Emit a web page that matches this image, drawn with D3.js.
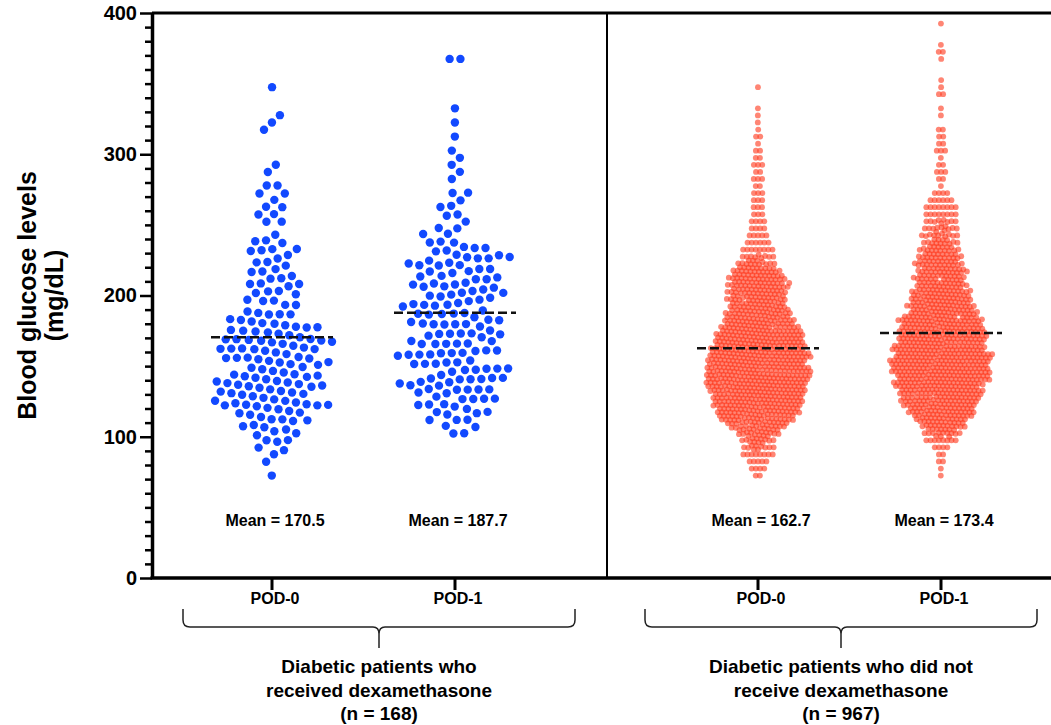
<!DOCTYPE html>
<html>
<head>
<meta charset="utf-8">
<script src="https://cdn.jsdelivr.net/npm/d3@7"></script>
<style>
body { margin: 0; background: #fff; }
text { font-family: "Liberation Sans", Arial, sans-serif; font-weight: bold; fill: #000; }
</style>
</head>
<body>
<svg id="chart" width="1051" height="725"></svg>
<script>
const BIN_START = 70;
const BIN_W = 5;
const groups = ["dex", "nodex"];
const pods = ["POD-0", "POD-1"];
const groupLabels = [
    ["Diabetic patients who", "received dexamethasone", "(n = 168)"],
    ["Diabetic patients who did not", "receive dexamethasone", "(n = 967)"]
];
const dexPod0 = [1,0,1,1,2,3,3,4,4,4, 7,9,10,7,7,7,5,6,8,10, 6,6,4,4,2,3,4,4,3,3,
                 3,2,4,3,1,0,2,2,2,1, 2,2,0,1,1,0,0,0,0,1, 1,1,0,0,0,1];
const dexPod1 = [0,0,0,0,0,0,2,2,3,4, 5,5,6,7,6,6,6,6,6,6, 6,5,6,6,5,6,6,6,5,5,
                 6,6,5,3,2,2,1,2,2,1, 2,0,1,1,1,1,1,0,1,0, 1,0,1,0,0,0,0,0,0,2];
const nodexPod0 = [2,4,5,8,10,12,15,21,30,35, 40,43,47,49,50,50,50,46,45,41,
                   37,34,31,28,25,25,26,28,26,21, 13,9,8,6,5,4,4,3,3,3,
                   3,2,3,2,3,2,2,1,2,1, 1,1,1,0,0,1];
const nodexPod1 = [1,1,2,2,4,8,12,18,23,29, 33,36,38,42,45,47,48,47,44,42,
                   40,38,36,30,28,27,25,23,22,22, 21,19,16,13,11,10,9,8,8,6,
                   4,1,2,3,2,1,3,2,2,2, 0,1,1,0,2,1,1,0,0,1, 2,1,0,0,1];
const means = [170.5, 187.7, 162.7, 173.4];
const yTicks = [0, 100, 200, 300, 400];

/* ---------------------------------- */
const M = {left: 152, top: 13, bottom: 578, right: 1051};
const COLORS = {dex: "#1249ff", nodex: "#ff3418"};

const svg = d3.select("#chart");

var y = d3.scaleLinear().domain([0, 400]).range([M.bottom, M.top]);
var keys = [];
groups.forEach((g) => pods.forEach((p) => keys.push(g + "|" + p)));
var x = d3.scaleOrdinal().domain(keys).range([272, 455, 758, 941]);
var groupMid = d3.scaleOrdinal().domain(groups).range([379, 841]);

var series = [
    {key: "dex|POD-0", group: "dex", counts: dexPod0, mean: means[0]},
    {key: "dex|POD-1", group: "dex", counts: dexPod1, mean: means[1]},
    {key: "nodex|POD-0", group: "nodex", counts: nodexPod0, mean: means[2]},
    {key: "nodex|POD-1", group: "nodex", counts: nodexPod1, mean: means[3]}
];

var expand = function(counts){
    return counts.flatMap((c, i) => d3.range(c).map(() => BIN_START + i*BIN_W + BIN_W/2));
};

// beeswarm: pull each dot to its value, collide sideways
var swarm = function(values, cx, rc){
    var nodes = values.map((v, i) => ({v: v, x: cx + ((i % 9) - 4)*0.4, y: y(v)}));
    var sim = d3.forceSimulation(nodes)
                .force("x", d3.forceX(cx).strength(0.03))
                .force("y", d3.forceY((d) => y(d.v)).strength(0.9))
                .force("collide", d3.forceCollide(rc).iterations(3))
                .stop();
    for (var i = 0; i < 300; i++) sim.tick();
    return nodes;
};

// frame
svg.append("line").attr("x1", M.left).attr("x2", M.right).attr("y1", M.top).attr("y2", M.top)
   .attr("stroke", "#000").attr("stroke-width", 3);
svg.append("line").attr("x1", 607).attr("x2", 607).attr("y1", M.top).attr("y2", M.bottom)
   .attr("stroke", "#000").attr("stroke-width", 2);

// dots
series.forEach(function(s){
    var dex = s.group === "dex";
    var nodes = swarm(expand(s.counts), x(s.key), dex ? 5.4 : 2.1);
    svg.append("g")
       .selectAll("circle")
       .data(nodes)
       .enter()
       .append("circle")
       .attr("cx", (d) => d.x)
       .attr("cy", (d) => d.y)
       .attr("r", dex ? 4.2 : 2.9)
       .attr("fill", COLORS[s.group])
       .attr("fill-opacity", dex ? 1 : 0.6);
});

// mean lines + labels
svg.append("g")
   .selectAll("line")
   .data(series)
   .enter()
   .append("line")
   .attr("x1", (d) => x(d.key) - 61)
   .attr("x2", (d) => x(d.key) + 61)
   .attr("y1", (d) => y(d.mean))
   .attr("y2", (d) => y(d.mean))
   .attr("stroke", "#111")
   .attr("stroke-width", 2.5)
   .attr("stroke-dasharray", "9,4");
svg.append("g")
   .selectAll("text")
   .data(series)
   .enter()
   .append("text")
   .attr("x", (d) => x(d.key) + 3)
   .attr("y", 526)
   .attr("text-anchor", "middle")
   .style("font-size", "16px")
   .text((d) => "Mean = " + d.mean.toFixed(1));

// y axis
var yAxis = svg.append("g")
   .attr("transform", "translate(" + M.left + ",0)")
   .call(d3.axisLeft(y).tickValues(yTicks).tickSize(12).tickSizeOuter(0).tickPadding(3));
yAxis.select(".domain").attr("stroke-width", 3.5);
yAxis.selectAll(".tick line").attr("stroke-width", 2.5);
yAxis.selectAll(".tick text").style("font-size", "20px").style("font-family", "Liberation Sans, Arial, sans-serif");
var yMinor = svg.append("g")
   .attr("transform", "translate(" + M.left + ",0)")
   .call(d3.axisLeft(y).tickValues(d3.range(0, 401, 10).filter((v) => v % 100)).tickSize(7).tickFormat(""));
yMinor.select(".domain").remove();
yMinor.selectAll(".tick line").attr("stroke-width", 2.5);

var title = svg.append("g").attr("transform", "translate(0," + ((M.top + M.bottom)/2) + ") rotate(-90)");
title.append("text").attr("x", 0).attr("y", 36).attr("text-anchor", "middle")
     .style("font-size", "25px").text("Blood glucose levels");
title.append("text").attr("x", 0).attr("y", 63).attr("text-anchor", "middle")
     .style("font-size", "25px").text("(mg/dL)");

// x axis
svg.append("line").attr("x1", M.left - 1.5).attr("x2", M.right).attr("y1", M.bottom).attr("y2", M.bottom)
   .attr("stroke", "#000").attr("stroke-width", 3.5);
var xt = svg.append("g")
            .selectAll("g.xtick")
            .data(keys)
            .enter()
            .append("g")
            .classed("xtick", true)
            .attr("transform", (d) => "translate(" + x(d) + "," + M.bottom + ")");
xt.append("line").attr("y2", 12).attr("stroke", "#000").attr("stroke-width", 3);
xt.append("text").attr("x", 3).attr("y", 26).attr("text-anchor", "middle")
  .style("font-size", "16px").text((d) => d.split("|")[1]);

// braces under each group
var brace = function(x0, x1, cx){
    var yt = 609, ym = 627, yb = 648;
    return "M" + x0 + "," + yt + " L" + x0 + "," + (ym - 7) + " Q" + x0 + "," + ym + " " + (x0 + 7) + "," + ym +
           " L" + (cx - 6) + "," + ym + " Q" + cx + "," + ym + " " + cx + "," + (ym + 7) + " L" + cx + "," + yb +
           " M" + cx + "," + (ym + 7) + " Q" + cx + "," + ym + " " + (cx + 6) + "," + ym +
           " L" + (x1 - 7) + "," + ym + " Q" + x1 + "," + ym + " " + x1 + "," + (ym - 7) + " L" + x1 + "," + yt;
};
var gl = svg.append("g")
            .selectAll("g.grp")
            .data(groups)
            .enter()
            .append("g")
            .classed("grp", true);
gl.append("path")
  .attr("d", (d) => brace(groupMid(d) - 196, groupMid(d) + 196, groupMid(d)))
  .attr("fill", "none")
  .attr("stroke", "#222")
  .attr("stroke-width", 1.5);
gl.each(function(d, i){
    d3.select(this).selectAll("text")
      .data(groupLabels[i])
      .enter()
      .append("text")
      .attr("x", groupMid(d))
      .attr("y", (t, j) => 673 + j*23.5)
      .attr("text-anchor", "middle")
      .style("font-size", "19px")
      .text((t) => t);
});
</script>
</body>
</html>
